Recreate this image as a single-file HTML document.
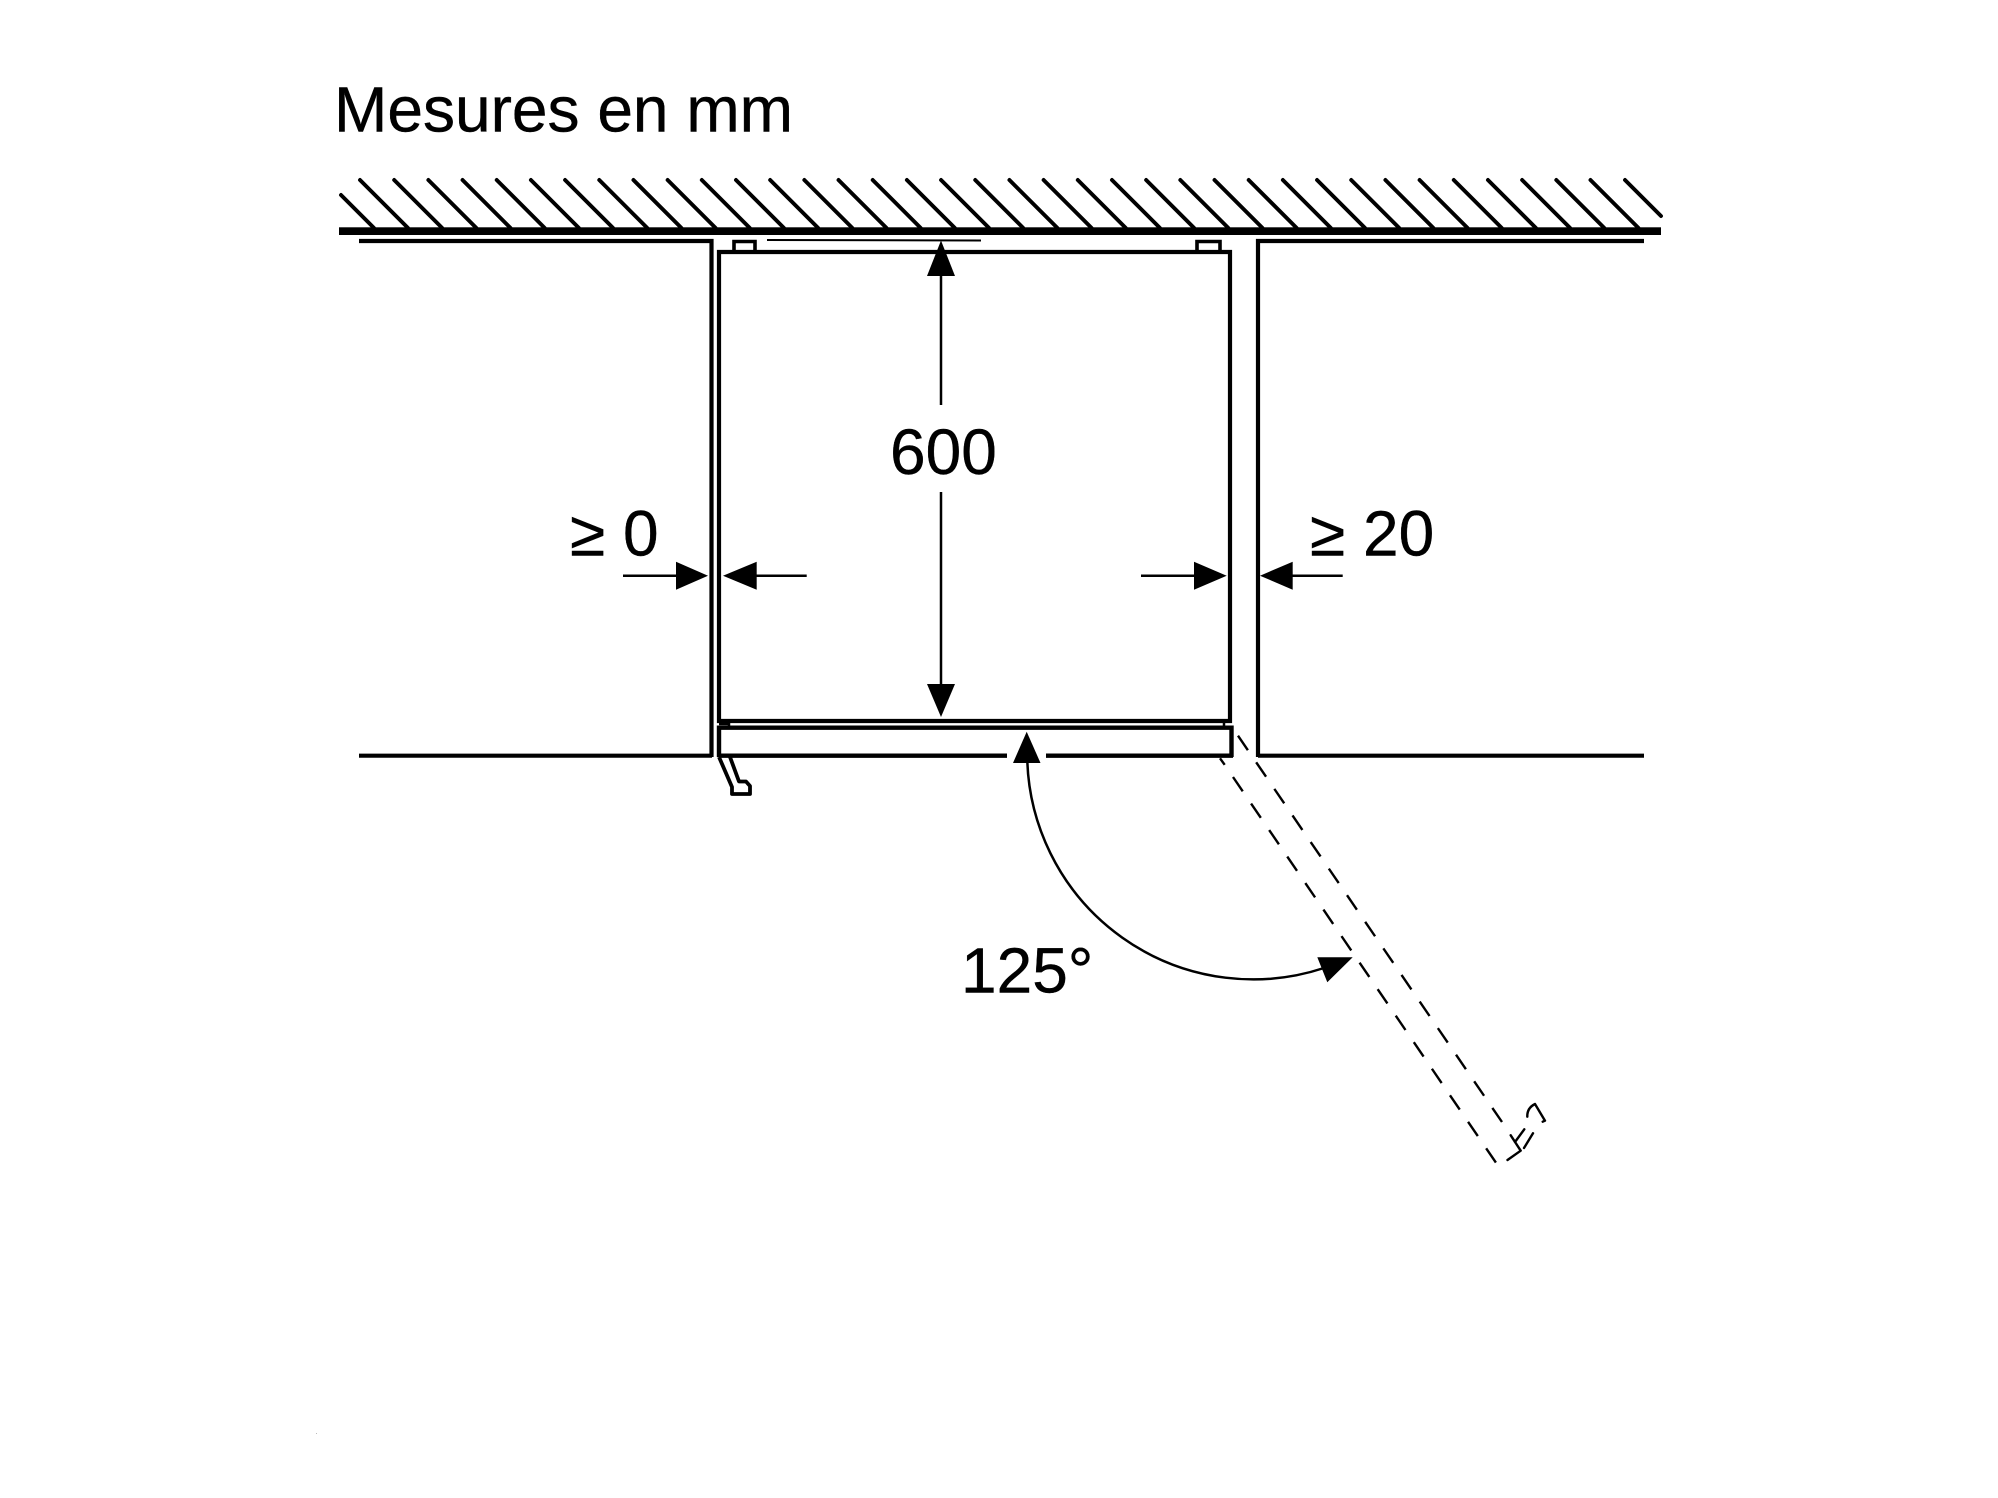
<!DOCTYPE html>
<html lang="fr">
<head>
<meta charset="utf-8">
<title>Mesures en mm</title>
<style>
html,body{margin:0;padding:0;background:#fff;width:1998px;height:1498px;overflow:hidden}
svg{display:block}
text{font-family:"Liberation Sans",Arial,sans-serif;font-size:64px;fill:#000;stroke:#000;stroke-width:.4px}
</style>
</head>
<body>
<svg xmlns="http://www.w3.org/2000/svg" width="1998" height="1498" viewBox="0 0 1998 1498">
<rect width="1998" height="1498" fill="#fff"/>
<text x="334" y="131.5" textLength="459" lengthAdjust="spacingAndGlyphs">Mesures en mm</text>

<!-- wall -->
<rect x="339" y="227.3" width="1322" height="7.7" fill="#000"/>
<path fill="none" stroke="#000" stroke-width="3.9" stroke-linecap="round" d="M341,195 L374,228 M360,180 l48,48
m-13.82,-48 l48,48 m-13.82,-48 l48,48 m-13.82,-48 l48,48 m-13.82,-48 l48,48 m-13.82,-48 l48,48 m-13.82,-48 l48,48
m-13.82,-48 l48,48 m-13.82,-48 l48,48 m-13.82,-48 l48,48 m-13.82,-48 l48,48 m-13.82,-48 l48,48 m-13.82,-48 l48,48
m-13.82,-48 l48,48 m-13.82,-48 l48,48 m-13.82,-48 l48,48 m-13.82,-48 l48,48 m-13.82,-48 l48,48 m-13.82,-48 l48,48
m-13.82,-48 l48,48 m-13.82,-48 l48,48 m-13.82,-48 l48,48 m-13.82,-48 l48,48 m-13.82,-48 l48,48 m-13.82,-48 l48,48
m-13.82,-48 l48,48 m-13.82,-48 l48,48 m-13.82,-48 l48,48 m-13.82,-48 l48,48 m-13.82,-48 l48,48 m-13.82,-48 l48,48
m-13.82,-48 l48,48 m-13.82,-48 l48,48 m-13.82,-48 l48,48 m-13.82,-48 l48,48 m-13.82,-48 l48,48 m-13.82,-48 l48,48
M1625,180 L1661,216"/>

<!-- niche -->
<g fill="none" stroke="#000" stroke-width="4.2">
<path d="M359,241 H711.5 V757"/>
<path d="M1644,241 H1258 V757"/>
<path d="M359,755.7 H712"/>
<path d="M1258,755.7 H1644"/>
</g>

<!-- cabinet -->
<g fill="none" stroke="#000">
<path stroke-width="4.2" d="M719,252 H1230 V721 H719 Z"/>
<path stroke-width="3.6" d="M734,252 V241.5 H755 V252"/>
<path stroke-width="3.6" d="M1197,252 V241.5 H1220 V252"/>
<path stroke-width="2" d="M767,240 L981,240.5"/>
<path stroke-width="2.5" d="M719,724 H729 M729,722 V727 M1224,722 V727"/>
<!-- door -->
<path stroke-width="4.4" d="M719,757 V727.7 H1231.5 V757"/>
<path stroke-width="4.4" d="M719,755.7 H1007 M1046,755.7 H1233"/>
<!-- handle -->
<path stroke-width="3.8" stroke-linejoin="round" d="M719,757 L732,787 V794 H750 V786 L746,781.5 H739 L730,757"/>
</g>

<!-- dashed open door -->
<g fill="none" stroke="#000" stroke-width="2.4">
<path d="M1220,758.3 L1224.7,764.8"/>
<path stroke-dasharray="17.3 14.8" d="M1233,777 L1496.5,1163.5"/>
<path stroke-dasharray="17.5 14.7" d="M1238,735.7 L1502,1122"/>
<path stroke-linecap="round" stroke-linejoin="round" d="M1507.5,1160 L1520.7,1150.7 L1510.7,1135.3 M1515,1142 L1524.3,1129.3 M1524,1148 L1533,1133.3 M1527.3,1116.7 Q1527,1108 1535,1104 L1545,1120.7 L1542.7,1121.7"/>
</g>

<!-- dimensions -->
<g stroke="#000" stroke-width="2.5" fill="none">
<path d="M941,270 V405 M941,492 V690"/>
<path d="M623,575.7 H680 M752,575.7 H806.7 M1141,575.7 H1198 M1288,575.7 H1342.7"/>
<path d="M1027.2,757 A226,226 0 0 0 1324,968"/>
</g>
<g fill="#000">
<path d="M941,240.5 L955,276 L927,276 Z"/>
<path d="M941,717 L927,684 L955,684 Z"/>
<path d="M708,575.7 L676,561.7 L676,589.7 Z"/>
<path d="M723,575.7 L756.7,561.7 L756.7,589.7 Z"/>
<path d="M1226.7,575.7 L1194,561.7 L1194,589.7 Z"/>
<path d="M1260,575.7 L1292.7,561.7 L1292.7,589.7 Z"/>
<path d="M1026.7,731.7 L1040.5,763 L1013,763 Z"/>
<path d="M1352.7,957.3 L1317.3,957.3 L1327.3,982.3 Z"/>
</g>

<text x="890" y="474">600</text>
<text x="570" y="555.5">≥</text>
<text x="623" y="555.5">0</text>
<text x="1310" y="555.5">≥</text>
<text x="1363" y="555.5">20</text>
<text x="961" y="992.5">125°</text>
<rect x="316" y="1433" width="1" height="1" fill="#bbb"/>
</svg>
</body>
</html>
